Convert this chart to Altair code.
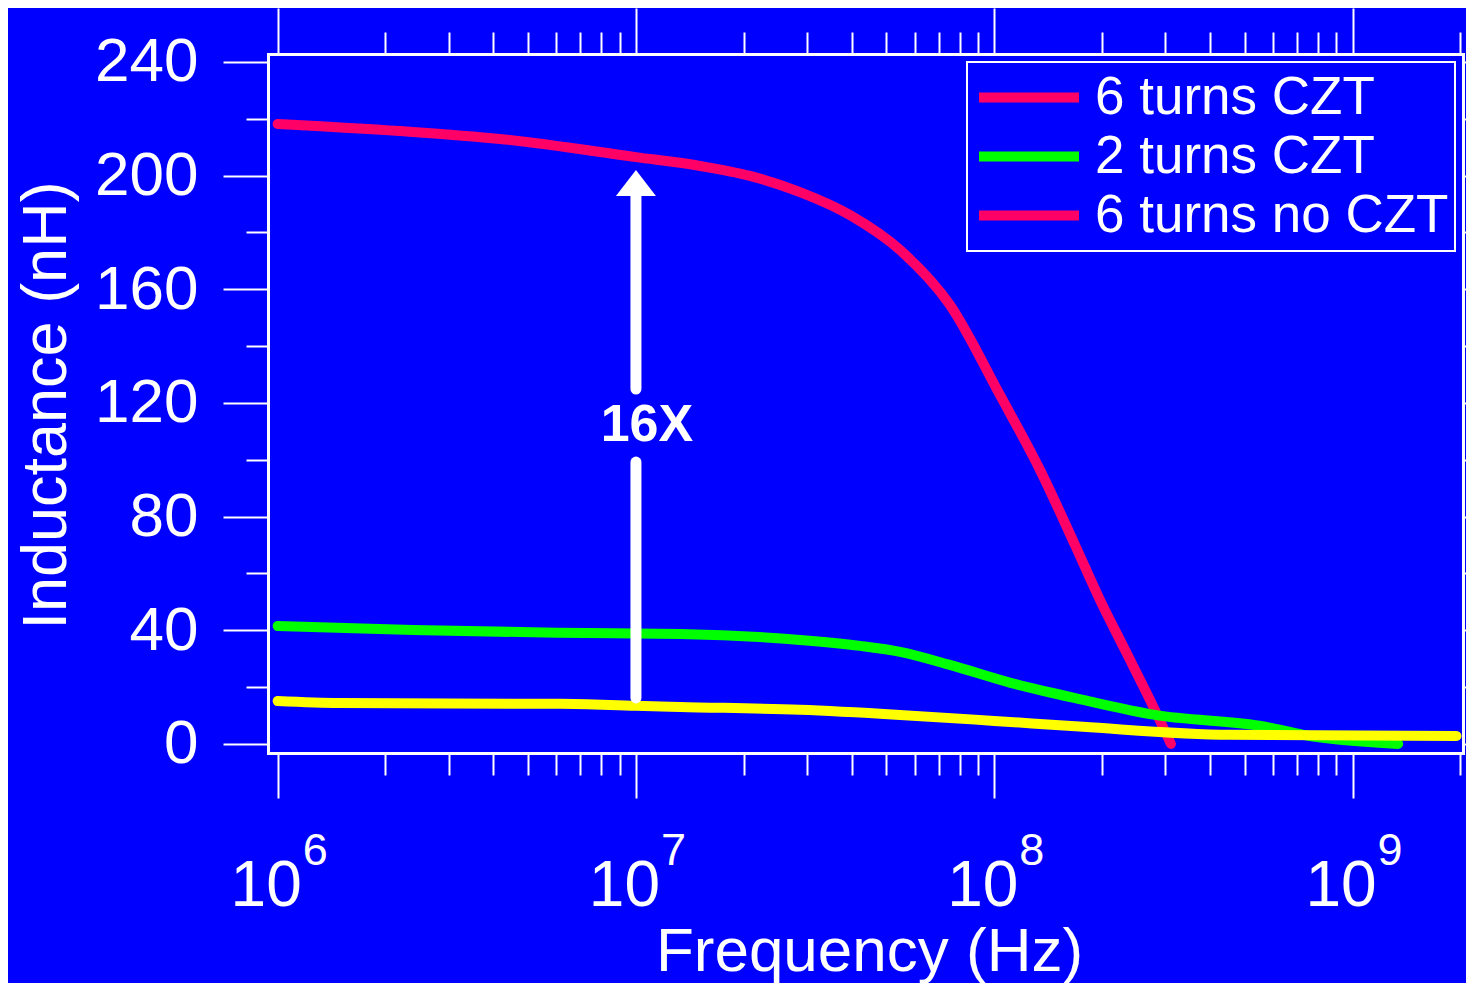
import altair as alt
import pandas as pd

# ---------------- data ----------------
series_names = ["6 turns CZT", "2 turns CZT", "6 turns no CZT"]

red_freq = [1.0e6, 2.19e6, 4.17e6, 1.0e7, 1.51e7, 2.08e7, 2.87e7, 3.96e7, 5.46e7,
            7.52e7, 1.037e8, 1.342e8, 1.68e8, 1.972e8, 2.316e8, 2.72e8, 3.112e8]
red_ind = [218.2, 215.7, 212.9, 206.5, 203.4, 199.9, 194.2, 186.1, 173.8,
           154.5, 122.8, 96.4, 70.0, 50.7, 33.1, 15.5, 0.0]

green_freq = [1.0e6, 2.39e6, 6.03e6, 1.33e7, 2.87e7, 4.22e7, 5.46e7, 7.52e7,
              1.11e8, 1.77e8, 2.81e8, 5.74e8, 7.28e8, 1.34e9]
green_ind = [41.5, 40.1, 39.1, 38.7, 36.6, 34.5, 32.4, 27.8,
             21.5, 15.5, 10.2, 6.0, 3.2, 0.0]

yellow_freq = [1.0e6, 1.49e6, 6.14e6, 1.0e7, 1.33e7, 2.87e7, 5.46e7, 1.0e8,
               1.77e8, 4.55e8, 1.95e9]
yellow_ind = [15.1, 14.4, 14.1, 13.4, 13.0, 12.0, 10.2, 8.1,
              6.0, 3.2, 2.8]

x_tick_values = [m * 10 ** e for e in (6, 7, 8) for m in range(1, 10)] + [1e9, 2e9]
y_tick_values = list(range(0, 241, 20))
decades = [1e6, 1e7, 1e8, 1e9]
exponents = ["6", "7", "8", "9"]

arrow_x = [1e7, 1e7]
arrow_lo = [16.2, 124.9]
arrow_hi = [99.2, 194.0]
head_x = [1e7]
head_y = [197.4]
note_x = [1e7]
note_y = [112.2]
note_text = ["16X"]

# ---------------- styles ----------------
BLUE = "#0000FF"
RED = "#FF0066"
GREEN = "#00FF00"
YELLOW = "#FFFF00"
WHITE = "#FFFFFF"
FONT = "Liberation Sans"
W, H = 1195, 699

df_red = pd.DataFrame({"freq": red_freq, "ind": red_ind})
df_green = pd.DataFrame({"freq": green_freq, "ind": green_ind})
df_yellow = pd.DataFrame({"freq": yellow_freq, "ind": yellow_ind})
df_arrow = pd.DataFrame({"freq": arrow_x, "lo": arrow_lo, "hi": arrow_hi})
df_head = pd.DataFrame({"freq": head_x, "ind": head_y})
df_note = pd.DataFrame({"freq": note_x, "ind": note_y, "t": note_text})
df_sup = pd.DataFrame({"freq": decades, "e": exponents})
df_legend = pd.DataFrame({"freq": [1e5] * 3, "ind": [0.0] * 3, "series": series_names})

xscale = alt.Scale(type="log", domain=[9.4e5, 2.033e9], nice=False)
yscale = alt.Scale(domain=[-3.2, 242.8], nice=False, zero=False)

is_major_x = "abs(log(datum.value)/LN10 - round(log(datum.value)/LN10)) < 0.001"
is_major_y = "datum.value % 40 === 0"

x_axis = alt.Axis(
    orient="bottom", values=x_tick_values, title="Frequency (Hz)",
    labelExpr=f"({is_major_x}) ? '10' : ''",
    tickSize={"condition": {"test": is_major_x, "value": 45}, "value": 22},
    labelPadding=107, labelBaseline="alphabetic", labelOffset=-12,
    labelFontSize=64, labelOverlap=False, labelFlush=False,
    titleX=601, titleY=217, titleAlign="center", titleBaseline="alphabetic",
    titleFontSize=62, grid=False,
)
y_axis = alt.Axis(
    orient="left", values=y_tick_values, title="Inductance (nH)",
    labelExpr=f"({is_major_y}) ? datum.label : ''",
    tickSize={"condition": {"test": is_major_y, "value": 45}, "value": 22},
    labelPadding=25, labelFontSize=62, labelOverlap=False, labelFlush=False,
    titleX=-203, titleY=351, titleAngle=270, titleAlign="center",
    titleBaseline="alphabetic", titleFontSize=63, grid=False,
)
x_axis_top = alt.Axis(
    orient="top", values=x_tick_values, labels=False, title=None,
    tickSize={"condition": {"test": is_major_x, "value": 46}, "value": 22},
    grid=False,
)
y_axis_right = alt.Axis(
    orient="right", values=y_tick_values, labels=False, title=None,
    tickSize=3, grid=False,
)

X = alt.X("freq:Q", scale=xscale, axis=x_axis)
Y = alt.Y("ind:Q", scale=yscale, axis=y_axis)


def curve(df, col):
    return alt.Chart(df).mark_line(
        color=col, strokeWidth=10, strokeCap="round", strokeJoin="round",
        interpolate="monotone",
    ).encode(x=X, y=Y)


arrow = alt.Chart(df_arrow).mark_rule(color=WHITE, strokeWidth=11, strokeCap="round").encode(
    x=X, y=alt.Y("lo:Q", scale=yscale, axis=y_axis), y2="hi:Q"
)
head = alt.Chart(df_head).mark_point(
    shape="M0,-0.65L-1,0.65L1,0.65Z", size=1600, filled=True, color=WHITE,
    opacity=1, strokeWidth=0,
).encode(x=X, y=Y)
note = alt.Chart(df_note).mark_text(
    color=WHITE, font=FONT, fontSize=52, fontWeight="bold", dx=11, baseline="middle",
    align="center",
).encode(x=X, y=Y, text="t:N")
sup = alt.Chart(df_sup).mark_text(
    color=WHITE, font=FONT, fontSize=45, dx=25, align="left", baseline="alphabetic",
).encode(x=X, y=alt.value(811), text="e:N")

main = alt.layer(curve(df_red, RED), curve(df_green, GREEN), curve(df_yellow, YELLOW),
                 arrow, head, note, sup)

legend_layer = alt.Chart(df_legend).mark_line(strokeWidth=10, clip=True).encode(
    x=alt.X("freq:Q", scale=xscale, axis=x_axis_top),
    y=alt.Y("ind:Q", scale=yscale, axis=y_axis_right),
    color=alt.Color(
        "series:N",
        scale=alt.Scale(domain=series_names, range=[RED, GREEN, RED]),
        legend=alt.Legend(
            title=None, orient="none", legendX=699, legendY=8, labelFontSize=53,
            labelFont=FONT, labelColor=WHITE, symbolType="stroke", symbolSize=10000,
            symbolStrokeWidth=10, symbolOffset=1, labelOffset=11, padding=6,
            strokeColor=WHITE, fillColor=BLUE, clipHeight=59, rowPadding=0, labelLimit=0,
        ),
    ),
)

chart = alt.layer(main, legend_layer).resolve_axis(
    x="independent", y="independent"
).properties(
    width=W, height=H,
    autosize=alt.AutoSizeParams(type="none"),
    padding={"left": 260, "top": 46, "right": 3, "bottom": 230},
    background=BLUE,
).configure_view(strokeWidth=0).configure_axis(
    domainColor=WHITE, domainWidth=3, domainCap="square", tickColor=WHITE, tickWidth=2,
    labelColor=WHITE, titleColor=WHITE, labelFont=FONT, titleFont=FONT,
    titleFontWeight="normal", grid=False,
).configure_legend(strokeWidth=2)

chart.save("out.html", embed_options={"renderer": "svg", "actions": False})
